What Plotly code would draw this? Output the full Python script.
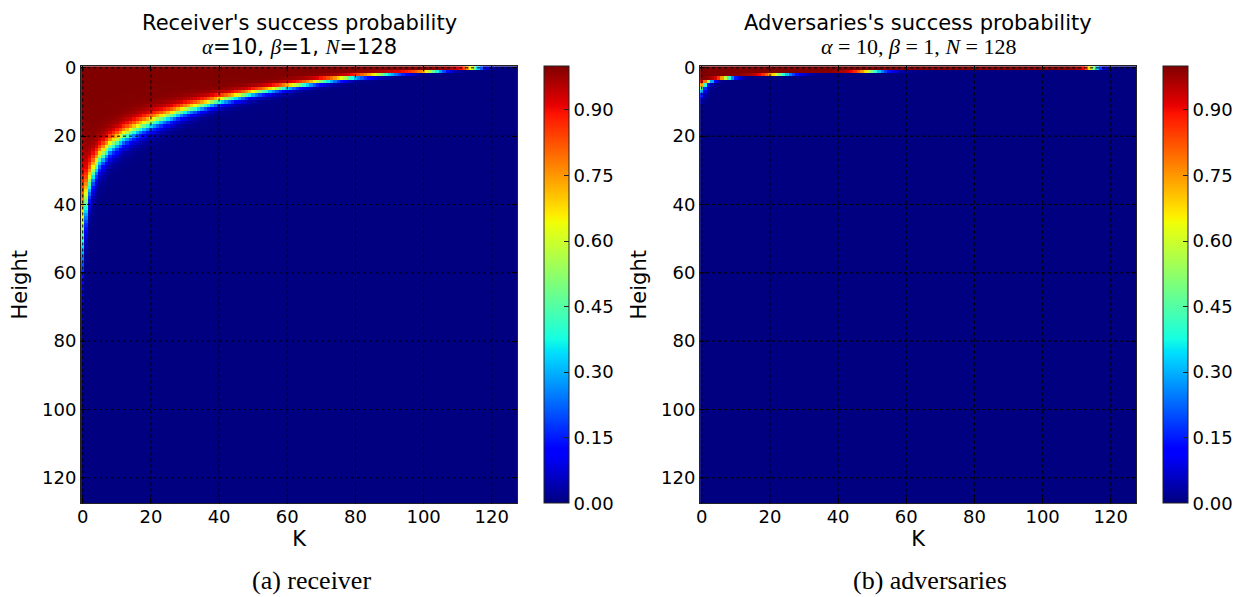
import numpy as np
import plotly.graph_objects as go

# ---------------------------------------------------------------- data
N = 128
k_values = np.arange(N)          # K (columns)
heights = np.arange(N)           # Height (rows)

# Receiver: height of the 0.5 level for sampled K, and how many rows the
# red->blue transition is spread over at that K
recv_k = [0, 1, 2, 3, 5, 8, 12, 16, 20, 30, 40, 50, 60, 70, 80, 90, 100, 108, 115, 120, 127]
recv_edge = [47.5, 39, 33.5, 30.5, 26.5, 23, 20, 17.8, 16, 12.4, 9.6, 7.4, 5.6, 4.0,
             2.7, 1.8, 1.2, 0.6, 0.0, -0.5, -1.2]
recv_spread = [7.5, 4.3, 3.0, 2.5, 2.0, 1.75, 1.6, 1.5, 1.4, 1.1, 0.85, 0.7, 0.6,
               0.48, 0.38, 0.3, 0.2, 0.17, 0.15, 0.15, 0.15]

# Adversaries: for the top rows, the K at which the probability passes 0.5
# and the number of columns the transition is spread over
adv_rows = [0, 1, 2, 3, 4, 5, 6, 7, 8, 9, 10]
adv_edge_k = [115, 50, 23, 7.5, 2.2, 0.7, -0.1, -0.6, -1.2, -1.7, -2.3]
adv_spread_k = [1.3, 2.7, 2.7, 1.4, 0.9, 0.7, 0.7, 0.7, 0.7, 0.7, 0.7]

axis_ticks = [0, 20, 40, 60, 80, 100, 120]
cbar_ticks = [0.0, 0.15, 0.30, 0.45, 0.60, 0.75, 0.90]


def logistic(x):
    return 1.0 / (1.0 + np.exp(-x))


edge = np.interp(k_values, recv_k, recv_edge)
spread = np.interp(k_values, recv_k, recv_spread)
receiver = logistic((edge[None, :] - heights[:, None]) / spread[None, :])

adversary = np.zeros((N, N))
for r, c, w in zip(adv_rows, adv_edge_k, adv_spread_k):
    adversary[r, :] = logistic((c - k_values) / w)

# ---------------------------------------------------------------- jet colormap
JET = {
    "r": [(0.0, 0.0), (0.35, 0.0), (0.66, 1.0), (0.89, 1.0), (1.0, 0.5)],
    "g": [(0.0, 0.0), (0.125, 0.0), (0.375, 1.0), (0.64, 1.0), (0.91, 0.0), (1.0, 0.0)],
    "b": [(0.0, 0.5), (0.11, 1.0), (0.34, 1.0), (0.65, 0.0), (1.0, 0.0)],
}
stops = sorted({p for ch in JET.values() for p, _ in ch})


def chan(name, t):
    xs, ys = zip(*JET[name])
    return float(np.interp(t, xs, ys))


jet = [[t, "rgb(%d,%d,%d)" % tuple(round(255 * chan(c, t)) for c in "rgb")] for t in stops]

# ---------------------------------------------------------------- layout geometry
W, H = 1245, 597


def fx(px):
    return px / W


def fy(py):
    return 1 - py / H


ax_top, ax_bot = 58.0, 502.0
left_x = (77.3, 515.0)
right_x = (698.3, 1136.0)
cbar_left = [542.0, 1163.0]

FONT = "DejaVu Sans"
fig = go.Figure()

panels = [
    dict(z=receiver, xa="x", ya="y", xd=left_x, cb=cbar_left[0],
         title="Receiver's success probability",
         sub=("<span style='font-family:Liberation Serif'><i>α</i></span>=10, "
              "<span style='font-family:Liberation Serif'><i>β</i></span>=1, "
              "<span style='font-family:Liberation Serif'><i>N</i></span>=128"),
         sub_font=FONT, sub_size=21, caption="(a) receiver"),
    dict(z=adversary, xa="x2", ya="y2", xd=right_x, cb=cbar_left[1],
         title="Adversaries's success probability",
         sub="<i>α</i> = 10, <i>β</i> = 1, <i>N</i> = 128",
         sub_font="Liberation Serif", sub_size=22, caption="(b) adversaries"),
]

for i, p in enumerate(panels):
    fig.add_trace(go.Heatmap(
        z=p["z"], x=k_values, y=heights, xaxis=p["xa"], yaxis=p["ya"],
        colorscale=jet, zmin=0, zmax=1, showscale=True,
        colorbar=dict(
            x=fx(p["cb"]), xanchor="left", xpad=0, ypad=0,
            y=(fy(ax_top) + fy(ax_bot)) / 2, yanchor="middle",
            len=(ax_bot - ax_top) / H, lenmode="fraction",
            thickness=25, thicknessmode="pixels",
            outlinewidth=1, outlinecolor="#222",
            tickvals=cbar_ticks, tickformat=".2f", ticks="inside", ticklen=5,
            tickcolor="#222", tickfont=dict(family=FONT, size=18, color="black"),
        ),
        hoverinfo="skip",
    ))
    suffix = "" if i == 0 else "2"
    axis_common = dict(
        tickvals=axis_ticks, ticks="inside", ticklen=5, tickcolor="black",
        showline=True, linecolor="#222", linewidth=1, mirror="ticks",
        showgrid=False, zeroline=False, layer="above traces",
        tickfont=dict(family=FONT, size=18, color="black"),
    )
    fig.layout["xaxis" + suffix] = dict(
        axis_common, domain=[fx(p["xd"][0]), fx(p["xd"][1])],
        range=[-0.5, 127.5], anchor="y" + suffix, ticklabelstandoff=-3,
        title=dict(text="K", font=dict(family=FONT, size=21, color="black"), standoff=0),
    )
    fig.layout["yaxis" + suffix] = dict(
        axis_common, domain=[fy(ax_bot), fy(ax_top)],
        range=[127.5, -0.5], anchor="x" + suffix,
        title=dict(text="Height", font=dict(family=FONT, size=21, color="black"), standoff=8),
    )
    # dotted grid on top of the image
    for v in axis_ticks:
        fig.add_shape(type="line", xref=p["xa"], yref=p["ya"] + " domain",
                      x0=v, x1=v, y0=0, y1=1, layer="above",
                      line=dict(color="black", width=1, dash="dot"))
        fig.add_shape(type="line", xref=p["xa"] + " domain", yref=p["ya"],
                      x0=0, x1=1, y0=v, y1=v, layer="above",
                      line=dict(color="black", width=1, dash="dot"))
    cx = fx((p["xd"][0] + p["xd"][1]) / 2)
    fig.add_annotation(x=cx, y=fy(28), xref="paper", yref="paper", text=p["title"],
                       showarrow=False, xanchor="center", yanchor="bottom",
                       font=dict(family=FONT, size=21, color="black"))
    fig.add_annotation(x=cx, y=fy(53), xref="paper", yref="paper", text=p["sub"],
                       showarrow=False, xanchor="center", yanchor="bottom",
                       font=dict(family=p["sub_font"], size=p["sub_size"], color="black"))
    fig.add_annotation(x=cx + fx(12), y=fy(580), xref="paper", yref="paper",
                       text=p["caption"], showarrow=False, xanchor="center",
                       yanchor="middle",
                       font=dict(family="Liberation Serif", size=26, color="black"))

fig.update_layout(
    width=W, height=H, margin=dict(l=0, r=0, t=0, b=0),
    paper_bgcolor="white", plot_bgcolor="white", showlegend=False,
)

fig.write_html("out.html")
